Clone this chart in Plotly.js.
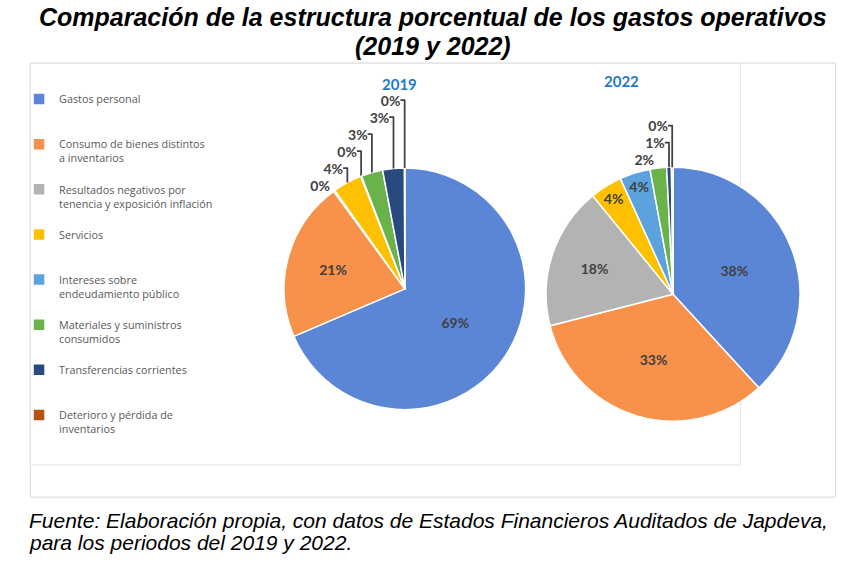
<!DOCTYPE html>
<html>
<head>
<meta charset="utf-8">
<script src="https://cdn.plot.ly/plotly-3.0.1.min.js"></script>
<style>
html,body{margin:0;padding:0;background:#fff;}
#chart{width:866px;height:563px;}
</style>
</head>
<body>
<div id="chart"></div>
<script>
// ---- data ----
var categories = [
  "Gastos personal",
  "Consumo de bienes distintos<br>a inventarios",
  "Resultados negativos por<br>tenencia y exposición inflación",
  "Servicios",
  "Intereses sobre<br>endeudamiento público",
  "Materiales y suministros<br>consumidos",
  "Transferencias corrientes",
  "Deterioro y pérdida de<br>inventarios"
];
var values2019 = [68.6, 21.4, 0.2, 3.9, 0.1, 2.9, 2.9, 0.05];
var values2022 = [38.2, 32.8, 18.1, 4.1, 3.9, 2.1, 0.6, 0.2];
var yearLabels = ["2019", "2022"];
var titleLines = ["Comparación de la estructura porcentual de los gastos operativos", "(2019 y 2022)"];
var sourceLines = ["Fuente: Elaboración propia, con datos de Estados Financieros Auditados de Japdeva,", "para los periodos del 2019 y 2022."];

// ---- styles ----
var sliceColors = ["#5B86D6", "#F8914A", "#B3B3B3", "#FFC000", "#5CA2DD", "#6AB24A", "#284A7E", "#B5520F"];
var pos2019 = ["inside","inside","outside","outside","outside","outside","outside","outside"];
var pos2022 = ["inside","inside","inside","inside","inside","outside","outside","outside"];

// pad legend labels to equal line count so entries are evenly spaced
function padLabel(s){
  var n = s.split("<br>").length;
  var out = s;
  for (var i = n; i < 3; i++) out += "<br>\u00a0";
  return out;
}
var legendLabels = categories.map(padLabel);

var pieFont = {family: "Lato, 'Open Sans', sans-serif", size: 14, color: "#404040", weight: "bold"};
var common = {
  type: "pie",
  labels: legendLabels,
  sort: false,
  direction: "clockwise",
  rotation: 0,
  texttemplate: "%{percent:.0%}",
  hoverinfo: "label+percent",
  insidetextorientation: "horizontal",
  marker: {colors: sliceColors, line: {color: "#ffffff", width: 1.5}},
  textfont: pieFont,
  outsidetextfont: pieFont,
  automargin: false
};

var trace1 = Object.assign({}, common, {
  values: values2019,
  name: yearLabels[0],
  textposition: pos2019,
  domain: {x: [0.328, 0.607], y: [0.272, 0.702]}
});
var trace2 = Object.assign({}, common, {
  values: values2022,
  name: yearLabels[1],
  textposition: pos2022,
  domain: {x: [0.6305, 0.9238], y: [0.252, 0.703]},
  showlegend: false
});

var titleFont = {family: "'Liberation Sans', Arial, sans-serif", size: 25, color: "#000000", weight: "bold", style: "italic"};
var srcFont = {family: "'Liberation Sans', Arial, sans-serif", size: 21, color: "#000000", style: "italic"};
var yearFont = {family: "Lato, 'Open Sans', sans-serif", size: 15, color: "#1F7AC8", weight: "bold"};

var layout = {
  width: 866,
  height: 563,
  margin: {l: 0, r: 0, t: 0, b: 0},
  paper_bgcolor: "#ffffff",
  showlegend: true,
  legend: {
    x: 0.022, xanchor: "left",
    y: 0.848, yanchor: "top",
    valign: "top",
    bgcolor: "rgba(0,0,0,0)",
    font: {family: "'Open Sans', Lato, sans-serif", size: 10.8, color: "#595959"},
    traceorder: "normal"
  },
  shapes: [
    {type: "rect", xref: "paper", yref: "paper", x0: 0.035, x1: 0.965, y0: 0.117, y1: 0.888,
     line: {color: "#d9d9d9", width: 1}, fillcolor: "rgba(0,0,0,0)", layer: "below"},
    {type: "rect", xref: "paper", yref: "paper", x0: 0.035, x1: 0.855, y0: 0.174, y1: 0.888,
     line: {color: "#e6e6e6", width: 1}, fillcolor: "rgba(0,0,0,0)", layer: "below"}
  ],
  annotations: [
    {text: titleLines[0], xref: "paper", yref: "paper", x: 0.5, y: 1 - 17/563, yanchor: "middle",
     showarrow: false, font: titleFont},
    {text: titleLines[1], xref: "paper", yref: "paper", x: 0.5, y: 1 - 46/563, yanchor: "middle",
     showarrow: false, font: titleFont},
    {text: yearLabels[0], xref: "paper", yref: "paper", x: 0.461, y: 1 - 84/563, yanchor: "middle",
     showarrow: false, font: yearFont},
    {text: yearLabels[1], xref: "paper", yref: "paper", x: 0.740, y: 1 - 81/563, yanchor: "middle",
     showarrow: false, font: yearFont},
    {text: sourceLines[0], xref: "paper", yref: "paper", x: 27/866, xanchor: "left", y: 1 - 520/563, yanchor: "middle",
     showarrow: false, font: srcFont},
    {text: sourceLines[1], xref: "paper", yref: "paper", x: 27/866, xanchor: "left", y: 1 - 542/563, yanchor: "middle",
     showarrow: false, font: srcFont}
  ]
};

Plotly.newPlot("chart", [trace1, trace2], layout, {displayModeBar: false, staticPlot: true});
</script>
</body>
</html>
